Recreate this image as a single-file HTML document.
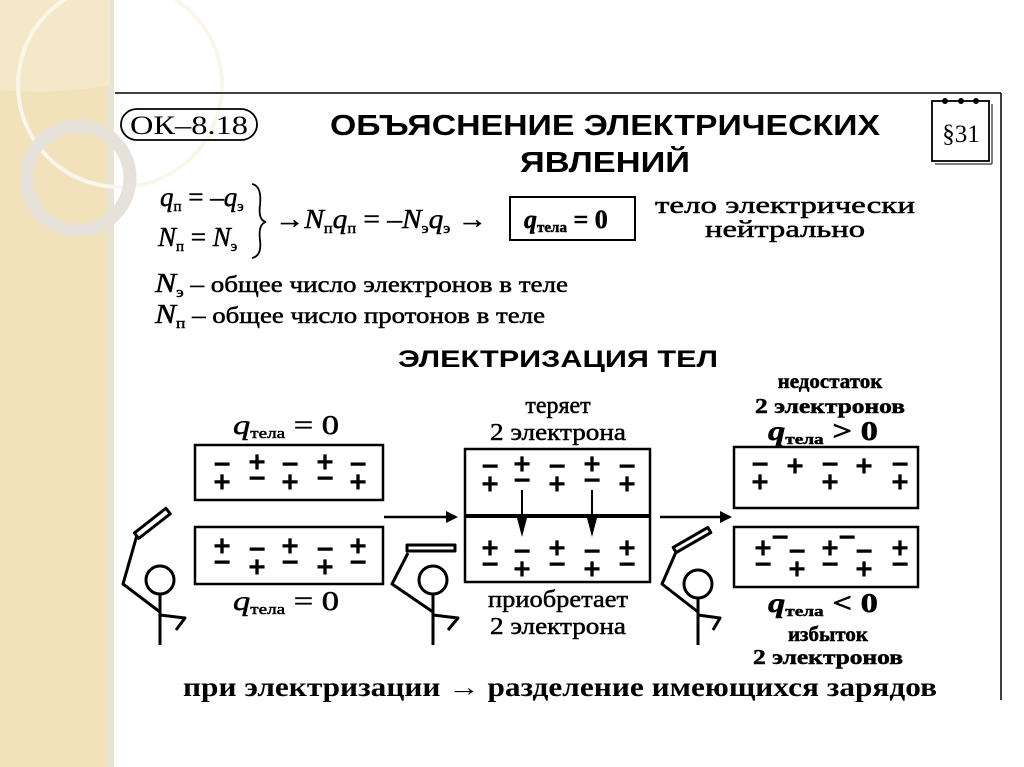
<!DOCTYPE html>
<html><head><meta charset="utf-8"><style>
html,body{margin:0;padding:0;background:#fff;}
svg{display:block}
.s{font-family:"Liberation Serif",serif;}
.b{font-family:"Liberation Sans",sans-serif;font-weight:bold;}
.pm{font-family:"Liberation Sans",sans-serif;font-size:30px;text-anchor:middle;font-weight:bold;}
.t{stroke:#000;stroke-width:0.5px;}
</style></head><body>
<svg width="1024" height="767" viewBox="0 0 1024 767" xmlns="http://www.w3.org/2000/svg">
<rect x="0" y="0" width="110" height="767" fill="#f2e2bb"/>
<rect x="106" y="0" width="8" height="767" fill="#e9e3d6"/>
<path d="M0 0 H110 V85 Q60 95 0 90 Z" fill="#f6ebcf" opacity="0.7"/>
<circle cx="120" cy="85" r="102" fill="none" stroke="#fbf6ea" stroke-width="4"/>
<circle cx="78" cy="178" r="52" fill="none" stroke="#e6e2da" stroke-width="13"/>
<g stroke="#000" fill="none">
<line x1="115" y1="93" x2="1001" y2="93" stroke-width="1.5"/>
<line x1="1001" y1="93" x2="1001" y2="700" stroke-width="1.5"/>
<rect x="121" y="109" width="136" height="31" rx="16" stroke-width="1.8"/>
<rect x="932" y="101" width="57" height="60" stroke-width="1.8"/>
<line x1="935" y1="164" x2="992" y2="164" stroke-width="1"/>
<line x1="992" y1="104" x2="992" y2="164" stroke-width="1"/>
<rect x="510" y="197" width="125" height="43" stroke-width="2"/>
<rect x="195" y="445" width="188" height="55" stroke-width="2.5"/>
<rect x="195" y="527" width="188" height="57" stroke-width="2.5"/>
<rect x="465" y="449" width="185" height="133" stroke-width="2.5"/>
<line x1="465" y1="516" x2="650" y2="516" stroke-width="4"/>
<rect x="734" y="447" width="184" height="61" stroke-width="2.5"/>
<rect x="734" y="527" width="184" height="60" stroke-width="2.5"/>
<line x1="384" y1="517" x2="448" y2="517" stroke-width="2.5"/>
<line x1="660" y1="517" x2="722" y2="517" stroke-width="2.5"/>
<line x1="522" y1="490" x2="522" y2="520" stroke-width="2"/>
<line x1="592" y1="490" x2="592" y2="520" stroke-width="2"/>
</g>
<g fill="#000">
<polygon points="446,511 458,517 446,523"/>
<polygon points="720,511 732,517 720,523"/>
<polygon points="517,518 527,518 522,537"/>
<polygon points="587,518 597,518 592,537"/>
<circle cx="945" cy="101" r="3"/><circle cx="961" cy="101" r="3"/><circle cx="976" cy="101" r="3"/>
</g>
<text x="130" y="134" class="s" font-size="26" textLength="118" lengthAdjust="spacingAndGlyphs">ОК–8.18</text>
<text x="330" y="135" class="b" font-size="29" textLength="550" lengthAdjust="spacingAndGlyphs">ОБЪЯСНЕНИЕ ЭЛЕКТРИЧЕСКИХ</text>
<text x="520" y="172" class="b" font-size="29" textLength="170" lengthAdjust="spacingAndGlyphs">ЯВЛЕНИЙ</text>
<text x="961" y="142" class="s" font-size="25" text-anchor="middle">§31</text>
<g class="s t" font-style="italic" font-size="27">
<text x="160" y="206">q<tspan font-size="15" font-style="normal" dy="5">п</tspan><tspan dy="-5" font-style="normal"> = –</tspan>q<tspan font-size="15" font-style="normal" dy="5">э</tspan></text>
<text x="158" y="246">N<tspan font-size="15" font-style="normal" dy="5">п</tspan><tspan dy="-5" font-style="normal"> = </tspan>N<tspan font-size="15" font-style="normal" dy="5">э</tspan></text>
<text x="275" y="228" textLength="212" lengthAdjust="spacingAndGlyphs"><tspan font-style="normal">→</tspan>N<tspan font-size="15" font-style="normal" dy="5">п</tspan><tspan dy="-5">q</tspan><tspan font-size="15" font-style="normal" dy="5">п</tspan><tspan dy="-5" font-style="normal"> = –</tspan>N<tspan font-size="15" font-style="normal" dy="5">э</tspan><tspan dy="-5">q</tspan><tspan font-size="15" font-style="normal" dy="5">э</tspan><tspan dy="-5" font-style="normal"> →</tspan></text>
<text x="524" y="228" font-weight="bold" font-size="26">q<tspan font-size="15" font-style="normal" dy="4">тела</tspan><tspan dy="-4" font-style="normal"> = 0</tspan></text>
<text x="155" y="292" textLength="413" lengthAdjust="spacingAndGlyphs">N<tspan font-size="15" font-style="normal" dy="5">э</tspan><tspan dy="-5" font-style="normal" font-size="23"> – общее число электронов в теле</tspan></text>
<text x="155" y="323" textLength="390" lengthAdjust="spacingAndGlyphs">N<tspan font-size="15" font-style="normal" dy="5">п</tspan><tspan dy="-5" font-style="normal" font-size="23"> – общее число протонов в теле</tspan></text>
<text x="233" y="434" textLength="106" lengthAdjust="spacingAndGlyphs">q<tspan font-size="15" font-style="normal" dy="4">тела</tspan><tspan dy="-4" font-style="normal"> = 0</tspan></text>
<text x="233" y="610" textLength="106" lengthAdjust="spacingAndGlyphs">q<tspan font-size="15" font-style="normal" dy="4">тела</tspan><tspan dy="-4" font-style="normal"> = 0</tspan></text>
<text x="768" y="440" font-weight="bold" textLength="110" lengthAdjust="spacingAndGlyphs">q<tspan font-size="15" font-style="normal" dy="4">тела</tspan><tspan dy="-4" font-style="normal"> &gt; 0</tspan></text>
<text x="768" y="612" font-weight="bold" textLength="110" lengthAdjust="spacingAndGlyphs">q<tspan font-size="15" font-style="normal" dy="4">тела</tspan><tspan dy="-4" font-style="normal"> &lt; 0</tspan></text>
</g>
<path d="M252 184 Q262 186 260 205 Q258 220 266 222 Q258 224 260 240 Q262 256 252 258" fill="none" stroke="#000" stroke-width="1.8"/>
<g class="s t" font-size="24" text-anchor="middle">
<text x="785" y="213" textLength="260" lengthAdjust="spacingAndGlyphs">тело электрически</text>
<text x="785" y="237" textLength="160" lengthAdjust="spacingAndGlyphs">нейтрально</text>
<text x="558" y="413">теряет</text>
<text x="558" y="440" textLength="136" lengthAdjust="spacingAndGlyphs">2 электрона</text>
<text x="558" y="607" textLength="140" lengthAdjust="spacingAndGlyphs">приобретает</text>
<text x="558" y="634" textLength="136" lengthAdjust="spacingAndGlyphs">2 электрона</text>
<text x="830" y="388" font-weight="bold" font-size="21">недостаток</text>
<text x="830" y="413" font-weight="bold" font-size="21" textLength="150" lengthAdjust="spacingAndGlyphs">2 электронов</text>
<text x="828" y="641" font-weight="bold" font-size="21">избыток</text>
<text x="828" y="664" font-weight="bold" font-size="21" textLength="150" lengthAdjust="spacingAndGlyphs">2 электронов</text>
</g>
<text x="398" y="367" class="b" font-size="24" textLength="320" lengthAdjust="spacingAndGlyphs">ЭЛЕКТРИЗАЦИЯ ТЕЛ</text>
<text x="183" y="696" class="s" font-size="27" font-weight="bold" textLength="754" lengthAdjust="spacingAndGlyphs">при электризации → разделение имеющихся зарядов</text>
<g class="pm">
<text x="222" y="474">−</text><text x="222" y="492">+</text><text x="257" y="472">+</text><text x="257" y="488">−</text><text x="290" y="474">−</text><text x="290" y="492">+</text><text x="325" y="472">+</text><text x="325" y="488">−</text><text x="358" y="474">−</text><text x="358" y="492">+</text>
<text x="222" y="556">+</text><text x="222" y="572">−</text><text x="257" y="559">−</text><text x="257" y="577">+</text><text x="290" y="556">+</text><text x="290" y="572">−</text><text x="325" y="559">−</text><text x="325" y="577">+</text><text x="358" y="556">+</text><text x="358" y="572">−</text>
<text x="490" y="476">−</text><text x="490" y="494">+</text><text x="522" y="474">+</text><text x="522" y="490">−</text><text x="557" y="476">−</text><text x="557" y="494">+</text><text x="592" y="474">+</text><text x="592" y="490">−</text><text x="627" y="476">−</text><text x="627" y="494">+</text>
<text x="490" y="558">+</text><text x="490" y="574">−</text><text x="522" y="561">−</text><text x="522" y="579">+</text><text x="557" y="558">+</text><text x="557" y="574">−</text><text x="592" y="561">−</text><text x="592" y="579">+</text><text x="627" y="558">+</text><text x="627" y="574">−</text>
<text x="760" y="474">−</text><text x="760" y="492">+</text><text x="795" y="476">+</text><text x="830" y="474">−</text><text x="830" y="492">+</text><text x="864" y="476">+</text><text x="900" y="474">−</text><text x="900" y="492">+</text>
<text x="763" y="558">+</text><text x="763" y="574">−</text><text x="780" y="547">−</text><text x="797" y="561">−</text><text x="797" y="579">+</text><text x="830" y="558">+</text><text x="830" y="574">−</text><text x="847" y="547">−</text><text x="864" y="561">−</text><text x="864" y="579">+</text><text x="900" y="558">+</text><text x="900" y="574">−</text>
</g>
<g stroke="#000" stroke-width="3" fill="none" stroke-linejoin="round">
<circle cx="160" cy="580" r="14"/>
<line x1="160" y1="594" x2="160" y2="645"/>
<polyline points="160,612 123,584 137,535"/>
<polyline points="160,615 185,618 176,630"/>
<rect x="132" y="520" width="40" height="7" transform="rotate(-38 152 523)"/>
<circle cx="433" cy="580" r="14"/>
<line x1="433" y1="594" x2="433" y2="645"/>
<polyline points="433,612 392,584 408,553"/>
<polyline points="433,615 458,618 448,630"/>
<rect x="407" y="545" width="48" height="6"/>
<circle cx="698" cy="584" r="14"/>
<line x1="698" y1="598" x2="698" y2="645"/>
<polyline points="698,612 662,584 676,552"/>
<polyline points="698,615 720,618 713,630"/>
<rect x="672" y="537" width="40" height="6" transform="rotate(-30 692 540)"/>
</g>
</svg>
</body></html>
